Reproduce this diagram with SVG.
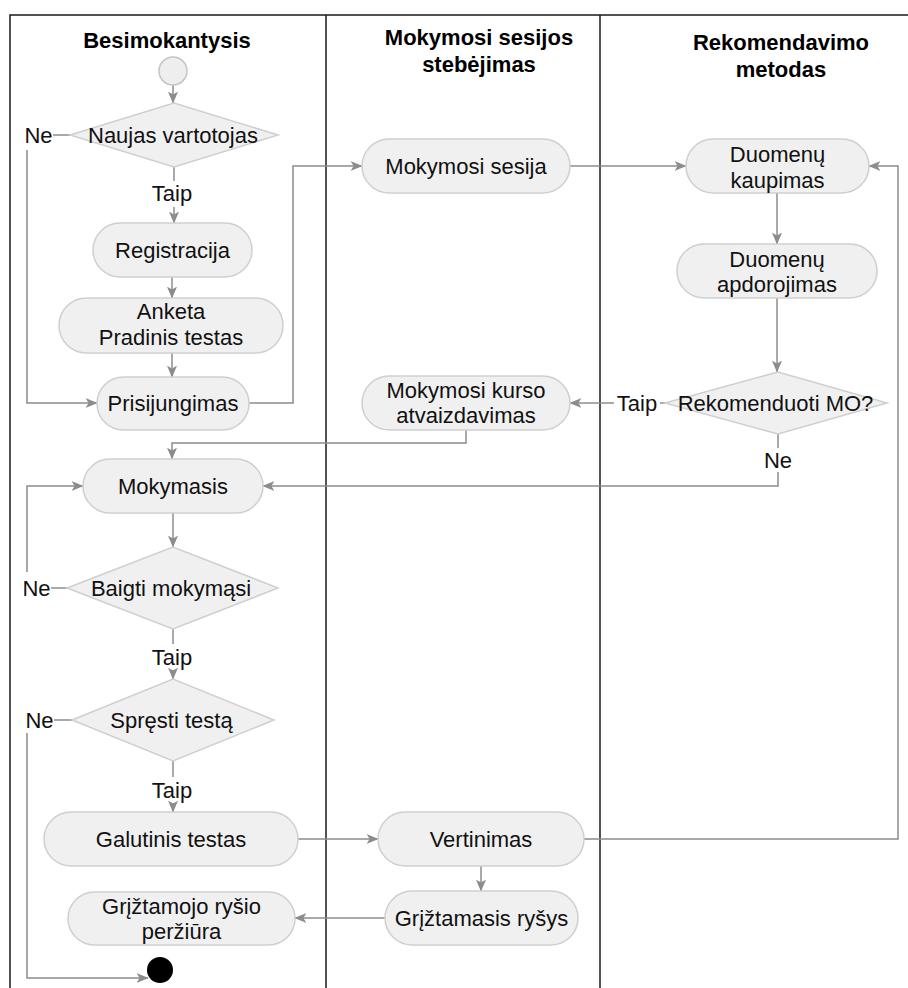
<svg xmlns="http://www.w3.org/2000/svg" width="908" height="988" viewBox="0 0 908 988">
<style>
.lane{stroke:#1a1a1a;stroke-width:1.5;fill:none}
.node{fill:#f0f0f0;stroke:#cfcfcf;stroke-width:1.5}
.t{font-family:"Liberation Sans",Arial,sans-serif;font-size:22px;fill:#111;text-anchor:middle}
.h{font-family:"Liberation Sans",Arial,sans-serif;font-size:22px;font-weight:bold;fill:#000;text-anchor:middle}
.c{fill:none;stroke:#8c8c8c;stroke-width:1.5}
.a{marker-end:url(#arr)}
</style>
<defs>
<marker id="arr" markerUnits="userSpaceOnUse" markerWidth="12" markerHeight="12" viewBox="0 0 10 10" refX="9.5" refY="5" orient="auto">
<path d="M0,0.8 L10,5 L0,9.2 L2.5,5 z" fill="#8c8c8c"/>
</marker>
</defs>
<rect width="908" height="988" fill="#fff"/>
<g id="lanes">
<path class="lane" d="M10,988 V15 H908 M326,15 V988 M600,15 V988"/>
<text class="h" x="167" y="48">Besimokantysis</text>
<text class="h" x="479" y="45">Mokymosi sesijos</text>
<text class="h" x="479" y="72">stebėjimas</text>
<text class="h" x="781" y="50">Rekomendavimo</text>
<text class="h" x="781" y="77">metodas</text>
</g>
<g id="connectors">
<path class="c a" d="M173,85 V103"/>
<path class="c" d="M174,167 V181"/>
<path class="c a" d="M174,207 V223"/>
<path class="c a" d="M172,277 V298"/>
<path class="c a" d="M172,353 V377"/>
<path class="c" d="M70,135 H53"/>
<path class="c a" d="M27,150 V403 H97"/>
<path class="c a" d="M249,403 H293 V166 H362"/>
<path class="c a" d="M570,166 H686"/>
<path class="c a" d="M777,193 V244"/>
<path class="c a" d="M777,298 V372"/>
<path class="c" d="M665,403 H660"/>
<path class="c a" d="M614,403 H570"/>
<path class="c" d="M778,434 V448"/>
<path class="c a" d="M778,472 V486 H263"/>
<path class="c a" d="M466,430 V443 H172 V459"/>
<path class="c a" d="M173,513 V547"/>
<path class="c" d="M67,588 H51"/>
<path class="c a" d="M27,572 V486 H83"/>
<path class="c" d="M173,629 V644"/>
<path class="c a" d="M173,670 V679"/>
<path class="c" d="M72,720 H54"/>
<path class="c a" d="M27,733 V978 H148"/>
<path class="c" d="M173,761 V777"/>
<path class="c a" d="M173,803 V812"/>
<path class="c a" d="M298,839 H378"/>
<path class="c a" d="M481,866 V891"/>
<path class="c a" d="M385,918 H295"/>
<path class="c a" d="M584,839 H898 V166 H869"/>
<text class="t" x="172" y="201">Taip</text>
<text class="t" x="38.5" y="143">Ne</text>
<text class="t" x="637" y="411">Taip</text>
<text class="t" x="778" y="468">Ne</text>
<text class="t" x="36.5" y="596">Ne</text>
<text class="t" x="172" y="665">Taip</text>
<text class="t" x="39.5" y="728">Ne</text>
<text class="t" x="172" y="798">Taip</text>
</g>
<g id="start"><circle cx="173" cy="71" r="14" fill="#eeeeee" stroke="#c4c4c4" stroke-width="1.5"/></g>
<g id="naujas"><polygon class="node" points="70,135 174,103 278,135 174,167"/><text class="t" x="173" y="143">Naujas vartotojas</text></g>
<g id="registracija"><rect class="node" x="93" y="223" width="159" height="54" rx="27"/><text class="t" x="172.5" y="258">Registracija</text></g>
<g id="anketa"><rect class="node" x="59" y="298" width="224" height="55" rx="27.5"/><text class="t" x="171" y="319">Anketa</text><text class="t" x="171" y="345">Pradinis testas</text></g>
<g id="prisijungimas"><rect class="node" x="97" y="377" width="152" height="53" rx="26.5"/><text class="t" x="173" y="411">Prisijungimas</text></g>
<g id="sesija"><rect class="node" x="362" y="139" width="208" height="54" rx="27"/><text class="t" x="466" y="174">Mokymosi sesija</text></g>
<g id="kaupimas"><rect class="node" x="686" y="139" width="183" height="54" rx="27"/><text class="t" x="777.5" y="162">Duomenų</text><text class="t" x="777.5" y="188">kaupimas</text></g>
<g id="apdorojimas"><rect class="node" x="677" y="244" width="200" height="54" rx="27"/><text class="t" x="777" y="267">Duomenų</text><text class="t" x="777" y="292">apdorojimas</text></g>
<g id="rekomenduoti"><polygon class="node" points="665,403 778,372 887,403 778,434"/><text class="t" x="775.5" y="411">Rekomenduoti MO?</text></g>
<g id="kursas"><rect class="node" x="362" y="376" width="208" height="54" rx="27"/><text class="t" x="466" y="398">Mokymosi kurso</text><text class="t" x="466" y="423">atvaizdavimas</text></g>
<g id="mokymasis"><rect class="node" x="83" y="459" width="180" height="54" rx="27"/><text class="t" x="173" y="494">Mokymasis</text></g>
<g id="baigti"><polygon class="node" points="67,588 173,547 278,588 173,629"/><text class="t" x="171" y="596">Baigti mokymąsi</text></g>
<g id="spresti"><polygon class="node" points="72,720 173,679 274,720 173,761"/><text class="t" x="171.5" y="728">Spręsti testą</text></g>
<g id="galutinis"><rect class="node" x="44" y="812" width="254" height="54" rx="27"/><text class="t" x="171" y="847">Galutinis testas</text></g>
<g id="vertinimas"><rect class="node" x="378" y="812" width="206" height="54" rx="27"/><text class="t" x="481" y="847">Vertinimas</text></g>
<g id="grystamasis"><rect class="node" x="385" y="891" width="193" height="54" rx="27"/><text class="t" x="481.5" y="926">Grįžtamasis ryšys</text></g>
<g id="perziura"><rect class="node" x="68" y="892" width="227" height="53" rx="26.5"/><text class="t" x="181.5" y="914">Grįžtamojo ryšio</text><text class="t" x="181.5" y="939">peržiūra</text></g>
<g id="end"><circle cx="160" cy="970" r="13" fill="#000"/></g>
</svg>
